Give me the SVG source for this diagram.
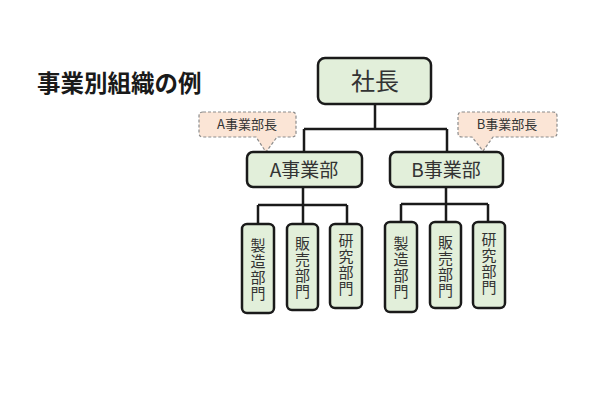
<svg xmlns="http://www.w3.org/2000/svg" width="600" height="400" viewBox="0 0 600 400">
<style>
.box{fill:#e2efda;stroke:#1a1a1a;stroke-width:2.5}
.call{fill:#fbe5d6;stroke:#8c8c8c;stroke-width:1.2;stroke-dasharray:3 2}
.t{font-family:"Noto Sans CJK JP","Noto Sans",sans-serif;fill:#333;text-anchor:middle}
.v{font-size:15px}
.line{fill:none;stroke:#1a1a1a;stroke-width:2.5}
</style>
<rect width="600" height="400" fill="#fff"/>
<text x="37" y="92" font-family="'Noto Sans CJK JP',sans-serif" font-weight="bold" font-size="23.5" fill="#1a1a1a">事業別組織の例</text>
<g id="connectors">
<path class="line" d="M375 104V129M304 129H447M304 129V152M447 129V152"/>
<path class="line" d="M303 187V205M258 205H347M258 205V224M303 205V224M347 205V224"/>
<path class="line" d="M446 187V204M401 204H488M401 204V222M446 204V222M488 204V222"/>
</g>
<g id="callout-a">
<path class="call" d="M203 112H292Q296 112 296 116V133Q296 137 292 137H277L266 152L256 137H203Q199 137 199 133V116Q199 112 203 112Z"/>
<text class="t" x="247" y="129" font-size="13">A事業部長</text>
</g>
<g id="callout-b">
<path class="call" d="M462 112H553Q557 112 557 116V133Q557 137 553 137H493L483 151L472 137H462Q458 137 458 133V116Q458 112 462 112Z"/>
<text class="t" x="507" y="129" font-size="13">B事業部長</text>
</g>
<g id="president">
<rect class="box" x="318" y="58" width="113" height="46" rx="7"/>
<text class="t" x="375" y="90" font-size="24">社長</text>
</g>
<g id="div-a">
<rect class="box" x="247" y="152" width="115" height="35" rx="6"/>
<text class="t" x="304" y="177" font-size="19">A事業部</text>
</g>
<g id="div-b">
<rect class="box" x="390" y="152" width="113" height="35" rx="6"/>
<text class="t" x="446" y="177" font-size="19">B事業部</text>
</g>
<g id="a-mfg">
<rect class="box" x="242" y="224" width="32" height="89" rx="5"/>
<text class="t v" x="258"><tspan x="258" y="251">製</tspan><tspan x="258" y="267">造</tspan><tspan x="258" y="283">部</tspan><tspan x="258" y="299">門</tspan></text>
</g>
<g id="a-sales">
<rect class="box" x="287" y="224" width="31" height="86" rx="5"/>
<text class="t v" x="302.5"><tspan x="302.5" y="249">販</tspan><tspan x="302.5" y="265">売</tspan><tspan x="302.5" y="281">部</tspan><tspan x="302.5" y="297">門</tspan></text>
</g>
<g id="a-rnd">
<rect class="box" x="330" y="224" width="32" height="84" rx="5"/>
<text class="t v" x="346"><tspan x="346" y="246">研</tspan><tspan x="346" y="262">究</tspan><tspan x="346" y="278">部</tspan><tspan x="346" y="294">門</tspan></text>
</g>
<g id="b-mfg">
<rect class="box" x="385" y="222" width="32" height="90" rx="5"/>
<text class="t v" x="401"><tspan x="401" y="249">製</tspan><tspan x="401" y="265">造</tspan><tspan x="401" y="281">部</tspan><tspan x="401" y="297">門</tspan></text>
</g>
<g id="b-sales">
<rect class="box" x="430" y="222" width="31" height="86" rx="5"/>
<text class="t v" x="445.5"><tspan x="445.5" y="248">販</tspan><tspan x="445.5" y="264">売</tspan><tspan x="445.5" y="280">部</tspan><tspan x="445.5" y="296">門</tspan></text>
</g>
<g id="b-rnd">
<rect class="box" x="473" y="222" width="32" height="86" rx="5"/>
<text class="t v" x="489"><tspan x="489" y="245">研</tspan><tspan x="489" y="261">究</tspan><tspan x="489" y="277">部</tspan><tspan x="489" y="293">門</tspan></text>
</g>
</svg>
